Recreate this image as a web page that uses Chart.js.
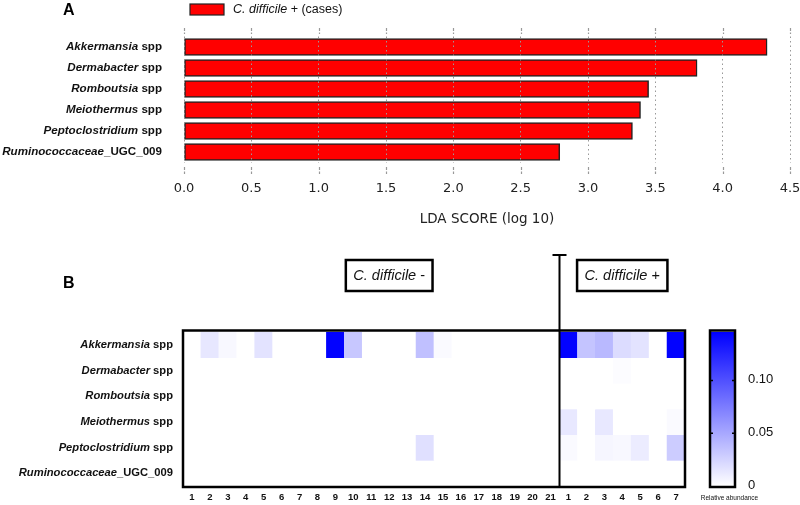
<!DOCTYPE html>
<html>
<head>
<meta charset="utf-8">
<script src="https://cdn.jsdelivr.net/npm/chart.js@4.4.0/dist/chart.umd.min.js"></script>
<style>
  html, body { margin: 0; padding: 0; background: #fff; }
  #wrap { position: relative; width: 800px; height: 505px; overflow: hidden; }
  #ldaCanvas { position: absolute; left: 0; top: 0; }
  #heatCanvas { position: absolute; left: 0; top: 240px; }
</style>
</head>
<body>
<div id="wrap">
  <canvas id="ldaCanvas" width="800" height="240"></canvas>
  <canvas id="heatCanvas" width="800" height="265"></canvas>
</div>
<script>
// Taxa (genus in italics, suffix upright)
const taxa = ['Akkermansia', 'Dermabacter', 'Romboutsia', 'Meiothermus', 'Peptoclostridium', 'Ruminococcaceae'];
const taxaSuffix = [' spp', ' spp', ' spp', ' spp', ' spp', '_UGC_009'];

// Panel A - LDA scores
const ldaScores = [4.33, 3.81, 3.45, 3.39, 3.33, 2.79];
const ldaTicks = [0, 0.5, 1, 1.5, 2, 2.5, 3, 3.5, 4, 4.5];

// Panel B - relative abundance per sample (21 C. difficile - then 7 C. difficile +)
const sampleLabels = ['1', '2', '3', '4', '5', '6', '7', '8', '9', '10', '11', '12', '13', '14', '15', '16', '17', '18', '19', '20', '21',
                      '1', '2', '3', '4', '5', '6', '7'];
const akkermansia      = [0, 0.014, 0.004, 0, 0.016, 0, 0, 0, 0.145, 0.032, 0, 0, 0, 0.036, 0.003, 0, 0, 0, 0, 0, 0,
                          0.145, 0.034, 0.040, 0.020, 0.016, 0, 0.145];
const dermabacter      = [0, 0, 0, 0, 0, 0, 0, 0, 0, 0, 0, 0, 0, 0, 0, 0, 0, 0, 0, 0, 0,
                          0, 0, 0, 0.002, 0, 0, 0];
const romboutsia       = [0, 0, 0, 0, 0, 0, 0, 0, 0, 0, 0, 0, 0, 0, 0, 0, 0, 0, 0, 0, 0,
                          0, 0, 0, 0, 0, 0, 0];
const meiothermus      = [0, 0, 0, 0, 0, 0, 0, 0, 0, 0, 0, 0, 0, 0, 0, 0, 0, 0, 0, 0, 0,
                          0.013, 0, 0.013, 0, 0, 0, 0.003];
const peptoclostridium = [0, 0, 0, 0, 0, 0, 0, 0, 0, 0, 0, 0, 0, 0.018, 0, 0, 0, 0, 0, 0, 0,
                          0.003, 0, 0.005, 0.004, 0.011, 0, 0.029];
const ruminococcaceae  = [0, 0, 0, 0, 0, 0, 0, 0, 0, 0, 0, 0, 0, 0, 0, 0, 0, 0, 0, 0, 0,
                          0, 0, 0, 0, 0, 0, 0];
const abundanceRows = [akkermansia, dermabacter, romboutsia, meiothermus, peptoclostridium, ruminococcaceae];
const colorbarTicks = [0, 0.05, 0.10];
const colorbarMax = 0.146;

const sans = '"Liberation Sans", Arial, sans-serif';
const dejavu = '"DejaVu Sans", sans-serif';

function abundanceColor(v) {
    const c = Math.round(255 * (1 - Math.min(v, colorbarMax) / colorbarMax));
    return `rgb(${c}, ${c}, 255)`;
}

// draws "genus" italic + suffix upright, right aligned at x
function drawTaxon(ctx, i, x, y, size) {
    ctx.textBaseline = 'middle';
    ctx.textAlign = 'right';
    ctx.fillStyle = '#111';
    ctx.font = `bold ${size}px ${sans}`;
    const w = ctx.measureText(taxaSuffix[i]).width;
    ctx.fillText(taxaSuffix[i], x, y);
    ctx.font = `italic bold ${size}px ${sans}`;
    ctx.fillText(taxa[i], x - w, y);
}

// Panel A extras: letter, legend, tick marks, labels
const ldaDecor = {
    id: 'ldaDecor',
    afterDraw(chart) {
        const ctx = chart.ctx;
        const x = chart.scales.x;
        const y = chart.scales.y;
        ctx.save();

        ctx.fillStyle = '#000';
        ctx.font = `bold 16px ${sans}`;
        ctx.textAlign = 'left';
        ctx.textBaseline = 'middle';
        ctx.fillText('A', 63, 11);

        // legend
        ctx.fillStyle = '#ff0000';
        ctx.fillRect(190, 4, 34, 11);
        ctx.strokeStyle = '#222';
        ctx.lineWidth = 1.2;
        ctx.strokeRect(190, 4, 34, 11);
        ctx.fillStyle = '#111';
        ctx.font = `italic 12.5px ${sans}`;
        ctx.fillText('C. difficile', 233, 10);
        const lw = ctx.measureText('C. difficile').width;
        ctx.font = `12.5px ${sans}`;
        ctx.fillText(' + (cases)', 233 + lw, 10);

        // tick marks above and below the bars
        ctx.strokeStyle = '#999';
        ctx.lineWidth = 1.2;
        ctx.setLineDash([3, 1.5]);
        ldaTicks.forEach(v => {
            const px = Math.round(x.getPixelForValue(v)) + 0.5;
            ctx.beginPath();
            ctx.moveTo(px, 28); ctx.lineTo(px, 34);
            ctx.moveTo(px, 167); ctx.lineTo(px, 174);
            ctx.stroke();
        });
        ctx.setLineDash([]);

        taxa.forEach((t, i) => {
            drawTaxon(ctx, i, 162, y.getPixelForValue(i), 11.6);
        });
        ctx.restore();
    }
};

new Chart(document.getElementById('ldaCanvas').getContext('2d'), {
    type: 'bar',
    data: {
        labels: taxa,
        datasets: [
            {
                label: 'C. difficile + (cases)',
                data: ldaScores,
                backgroundColor: '#ff0000',
                borderColor: '#222',
                borderWidth: 1.5,
                borderSkipped: false,
                barThickness: 17
            }
        ]
    },
    options: {
        indexAxis: 'y',
        responsive: false,
        animation: false,
        layout: { padding: { left: 184, right: 10, top: 36.5, bottom: 0 } },
        scales: {
            x: {
                min: 0,
                max: 4.5,
                afterFit: (scale) => {
                    scale.height = 77.5;
                    scale.paddingLeft = 0;
                    scale.paddingRight = 0;
                },
                grid: { color: '#999', lineWidth: 1, drawTicks: false, z: 1 },
                border: { display: false, dash: [1.5, 3] },
                ticks: {
                    stepSize: 0.5,
                    padding: 18,
                    color: '#222',
                    font: { family: dejavu, size: 13 },
                    callback: (v) => Number(v).toFixed(1)
                },
                title: {
                    display: true,
                    text: 'LDA SCORE (log 10)',
                    color: '#222',
                    font: { family: dejavu, size: 13.5 },
                    padding: { top: 0, bottom: 12 }
                }
            },
            y: { display: false }
        },
        plugins: {
            legend: { display: false },
            tooltip: { enabled: false }
        }
    },
    plugins: [ldaDecor]
});

// Panel B extras: frame, separator, group boxes, row labels, colour bar
const heatDecor = {
    id: 'heatDecor',
    afterDraw(chart) {
        const ctx = chart.ctx;
        const area = chart.chartArea;
        const x = chart.scales.x;
        const y = chart.scales.y;
        ctx.save();

        ctx.fillStyle = '#000';
        ctx.font = `bold 16px ${sans}`;
        ctx.textAlign = 'left';
        ctx.textBaseline = 'middle';
        ctx.fillText('B', 63, 44);

        // frame
        ctx.strokeStyle = '#000';
        ctx.lineWidth = 2.5;
        ctx.strokeRect(area.left, area.top - 1.5, area.right - area.left, area.bottom - area.top + 2.5);

        // separator between groups
        const sep = (x.getPixelForValue(20) + x.getPixelForValue(21)) / 2;
        ctx.lineWidth = 2;
        ctx.beginPath();
        ctx.moveTo(sep, 15); ctx.lineTo(sep, area.bottom);
        ctx.moveTo(sep - 7, 15); ctx.lineTo(sep + 7, 15);
        ctx.stroke();

        // group boxes
        [[x.getPixelForValue(11), ' -'], [x.getPixelForValue(24), ' +']].forEach(([cx, sign]) => {
            ctx.font = `italic 14.5px ${sans}`;
            const w1 = ctx.measureText('C. difficile').width;
            ctx.font = `14.5px ${sans}`;
            const w2 = ctx.measureText(sign).width;
            const bw = w1 + w2 + 15;
            ctx.lineWidth = 2.5;
            ctx.strokeRect(cx - bw / 2, 20, bw, 31);
            ctx.fillStyle = '#111';
            ctx.textAlign = 'left';
            ctx.font = `italic 14.5px ${sans}`;
            ctx.fillText('C. difficile', cx - bw / 2 + 7.5, 36);
            ctx.font = `14.5px ${sans}`;
            ctx.fillText(sign, cx - bw / 2 + 7.5 + w1, 36);
        });

        // row labels
        taxa.forEach((t, i) => {
            drawTaxon(ctx, i, 173, y.getPixelForValue(i + 0.5), 11.2);
        });

        // colour bar
        const cbL = area.right + 25, cbW = 25, cbT = area.top, cbB = area.bottom;
        const grad = ctx.createLinearGradient(0, cbB, 0, cbT);
        grad.addColorStop(0, abundanceColor(0));
        grad.addColorStop(1, abundanceColor(colorbarMax));
        ctx.fillStyle = grad;
        ctx.fillRect(cbL, cbT, cbW, cbB - cbT);
        ctx.lineWidth = 2.5;
        ctx.strokeRect(cbL, cbT - 1.5, cbW, cbB - cbT + 2.5);
        ctx.lineWidth = 1.5;
        ctx.fillStyle = '#111';
        ctx.font = `13px ${sans}`;
        ctx.textAlign = 'left';
        colorbarTicks.forEach(v => {
            const py = cbB - (v / colorbarMax) * (cbB - cbT);
            if (v > 0) {
                ctx.beginPath();
                ctx.moveTo(cbL, py); ctx.lineTo(cbL + 3, py);
                ctx.moveTo(cbL + cbW - 3, py); ctx.lineTo(cbL + cbW, py);
                ctx.stroke();
            }
            ctx.fillText(v === 0 ? '0' : v.toFixed(2), cbL + 38, py - 1);
        });
        ctx.font = `6.5px ${sans}`;
        ctx.textAlign = 'center';
        ctx.fillText('Relative abundance', cbL + cbW / 2 + 7, 258);
        ctx.restore();
    }
};

new Chart(document.getElementById('heatCanvas').getContext('2d'), {
    type: 'bar',
    data: {
        labels: sampleLabels,
        datasets: abundanceRows.map((row, r) => ({
            label: taxa[r] + taxaSuffix[r],
            data: row.map(() => [r, r + 1]),
            backgroundColor: row.map(abundanceColor),
            borderWidth: 0,
            grouped: false,
            barPercentage: 1,
            categoryPercentage: 1
        }))
    },
    options: {
        responsive: false,
        animation: false,
        layout: { padding: { left: 183, right: 115, top: 92, bottom: 0 } },
        scales: {
            x: {
                afterFit: (scale) => { scale.height = 19; },
                grid: { display: false, drawTicks: false },
                border: { display: false },
                ticks: {
                    autoSkip: false,
                    maxRotation: 0,
                    padding: 6,
                    color: '#111',
                    font: { family: sans, size: 9.5, weight: 'bold' }
                }
            },
            y: { display: false, min: 0, max: 6, reverse: true }
        },
        plugins: {
            legend: { display: false },
            tooltip: { enabled: false }
        }
    },
    plugins: [heatDecor]
});
</script>
</body>
</html>
